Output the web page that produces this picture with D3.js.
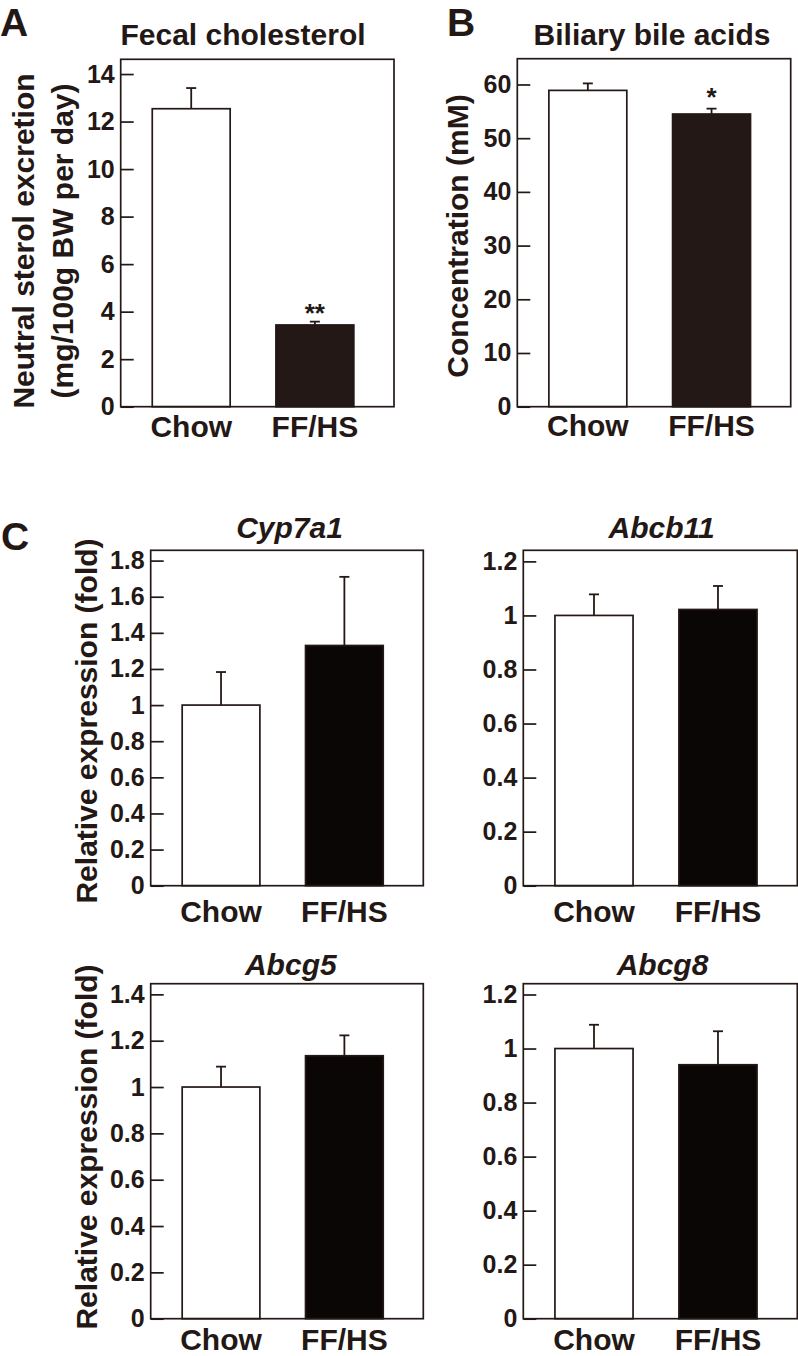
<!DOCTYPE html>
<html>
<head>
<meta charset="utf-8">
<script src="https://cdn.jsdelivr.net/npm/d3@7"></script>
<style>
  body { margin: 0; background: #fff; }
  svg text { font-family: "Liberation Sans", Arial, Helvetica, sans-serif; font-weight: bold; fill: #231815; }
</style>
</head>
<body>
<svg id="fig" width="798" height="1356"></svg>
<script>
// data (mean, SEM)
var groups = ["Chow", "FF/HS"];

var fecalMean = [12.54, 3.44];
var fecalSem = [0.87, 0.14];
var fecalSig = ["", "**"];
var fecalTicks = [0, 2, 4, 6, 8, 10, 12, 14];

var bileMean = [58.9, 54.5];
var bileSem = [1.3, 1.0];
var bileSig = ["", "*"];
var bileTicks = [0, 10, 20, 30, 40, 50, 60];

var cyp7a1Mean = [1.0, 1.33];
var cyp7a1Sem = [0.183, 0.38];
var cyp7a1Ticks = [0, 0.2, 0.4, 0.6, 0.8, 1, 1.2, 1.4, 1.6, 1.8];

var abcb11Mean = [1.0, 1.022];
var abcb11Sem = [0.078, 0.087];
var abcb11Ticks = [0, 0.2, 0.4, 0.6, 0.8, 1, 1.2];

var abcg5Mean = [1.0, 1.135];
var abcg5Sem = [0.088, 0.088];
var abcg5Ticks = [0, 0.2, 0.4, 0.6, 0.8, 1, 1.2, 1.4];

var abcg8Mean = [1.0, 0.94];
var abcg8Sem = [0.088, 0.124];
var abcg8Ticks = [0, 0.2, 0.4, 0.6, 0.8, 1, 1.2];

var ink = "#231815";
var svg = d3.select("#fig");

function drawPanel(opt) {
  var w = opt.right - opt.left, h = opt.bottom - opt.top;
  var g = svg.append("g").attr("transform", "translate(" + opt.left + "," + opt.top + ")");

  var x = d3.scaleBand().domain(groups).range([0, w])
    .paddingInner(0.37).paddingOuter(0.29).align(0.44);
  var y = d3.scaleLinear().domain([0, opt.ymax]).range([h, 0]);

  var yAxis = g.append("g")
    .call(d3.axisLeft(y).tickValues(opt.ticks).tickSizeInner(-13).tickSizeOuter(0).tickPadding(6)
      .tickFormat(function(d) { return String(+d.toFixed(1)); }));
  yAxis.select(".domain").remove();
  yAxis.selectAll("line").attr("stroke", ink).attr("stroke-width", 1.7);
  yAxis.selectAll("text").attr("font-size", 25).attr("font-family", null).attr("fill", ink);

  var xAxis = g.append("g").attr("transform", "translate(0," + h + ")")
    .call(d3.axisBottom(x).tickSize(0).tickPadding(opt.xgap));
  xAxis.select(".domain").remove();
  xAxis.selectAll("text").attr("font-size", 30).attr("font-family", null).attr("fill", ink);

  var data = groups.map(function(k, i) {
    return { k: k, m: opt.mean[i], s: opt.sem[i], sig: opt.sig ? opt.sig[i] : "", i: i };
  });

  // error bars (upper only), drawn under the bars
  var eb = g.selectAll(".eb").data(data).enter().append("g");
  eb.append("line")
    .attr("x1", function(d) { return x(d.k) + x.bandwidth() / 2; })
    .attr("x2", function(d) { return x(d.k) + x.bandwidth() / 2; })
    .attr("y1", function(d) { return y(d.m); })
    .attr("y2", function(d) { return y(d.m + d.s); })
    .attr("stroke", ink).attr("stroke-width", 1.8);
  eb.append("line")
    .attr("x1", function(d) { return x(d.k) + x.bandwidth() / 2 - 5; })
    .attr("x2", function(d) { return x(d.k) + x.bandwidth() / 2 + 5; })
    .attr("y1", function(d) { return y(d.m + d.s); })
    .attr("y2", function(d) { return y(d.m + d.s); })
    .attr("stroke", ink).attr("stroke-width", 1.8);

  g.selectAll(".bar").data(data).enter().append("rect")
    .attr("x", function(d) { return x(d.k); })
    .attr("width", x.bandwidth())
    .attr("y", function(d) { return y(d.m); })
    .attr("height", function(d) { return h - y(d.m); })
    .attr("fill", function(d) { return d.i === 0 ? "#fff" : opt.dark; })
    .attr("stroke", ink).attr("stroke-width", 1.7);

  g.selectAll(".sig").data(data.filter(function(d) { return d.sig; })).enter().append("text")
    .attr("x", function(d) { return x(d.k) + x.bandwidth() / 2; })
    .attr("y", function(d) { return y(d.m + d.s) - opt.sigGap + 4; })
    .attr("text-anchor", "middle").attr("font-size", 26)
    .text(function(d) { return d.sig; });

  // frame
  g.append("rect").attr("width", w).attr("height", h)
    .attr("fill", "none").attr("stroke", ink).attr("stroke-width", 1.7);

  svg.append("text").attr("x", opt.titleX).attr("y", opt.titleY)
    .attr("text-anchor", "middle").attr("font-size", 30)
    .attr("font-style", opt.italic ? "italic" : null)
    .text(opt.title);

  if (opt.ylab) {
    opt.ylab.forEach(function(line, i) {
      svg.append("text")
        .attr("transform", "translate(" + opt.ylabX[i] + "," + opt.ylabY + ") rotate(-90)")
        .attr("text-anchor", "middle").attr("font-size", 30)
        .text(line);
    });
  }
}

drawPanel({ left: 120.7, right: 394, top: 59.3, bottom: 406.7, ymax: 14.62, ticks: fecalTicks,
  mean: fecalMean, sem: fecalSem, sig: fecalSig, sigGap: 4, dark: ink, xgap: 8.7,
  title: "Fecal cholesterol", titleX: 243, titleY: 45,
  ylab: ["Neutral sterol excretion", "(mg/100g BW per day)"], ylabX: [34, 73], ylabY: 241 });

drawPanel({ left: 517.3, right: 790.7, top: 58.7, bottom: 406.7, ymax: 64.8, ticks: bileTicks,
  mean: bileMean, sem: bileSem, sig: bileSig, sigGap: 7, dark: ink, xgap: 8,
  title: "Biliary bile acids", titleX: 652, titleY: 45,
  ylab: ["Concentration (mM)"], ylabX: [468], ylabY: 236 });

drawPanel({ left: 150.7, right: 423.3, top: 550.3, bottom: 885.7, ymax: 1.857, ticks: cyp7a1Ticks,
  mean: cyp7a1Mean, sem: cyp7a1Sem, dark: "#0b0606", xgap: 14.7,
  title: "Cyp7a1", titleX: 289.5, titleY: 538, italic: true,
  ylab: ["Relative expression (fold)"], ylabX: [97], ylabY: 721 });

drawPanel({ left: 523.3, right: 797.3, top: 550.3, bottom: 885.7, ymax: 1.241, ticks: abcb11Ticks,
  mean: abcb11Mean, sem: abcb11Sem, dark: "#0b0606", xgap: 14.7,
  title: "Abcb11", titleX: 661.7, titleY: 537.5, italic: true });

drawPanel({ left: 150.7, right: 423.3, top: 983.7, bottom: 1318.7, ymax: 1.446, ticks: abcg5Ticks,
  mean: abcg5Mean, sem: abcg5Sem, dark: "#0b0606", xgap: 10.5,
  title: "Abcg5", titleX: 290.8, titleY: 975, italic: true,
  ylab: ["Relative expression (fold)"], ylabX: [97], ylabY: 1147 });

drawPanel({ left: 523.3, right: 797.3, top: 983.7, bottom: 1318.7, ymax: 1.24, ticks: abcg8Ticks,
  mean: abcg8Mean, sem: abcg8Sem, dark: "#0b0606", xgap: 10.5,
  title: "Abcg8", titleX: 662.5, titleY: 975, italic: true });

// panel letters
var letters = [["A", 0, 35.5], ["B", 447, 35.5], ["C", 1, 550]];
svg.selectAll(".letter").data(letters).enter().append("text")
  .attr("x", function(d) { return d[1]; })
  .attr("y", function(d) { return d[2]; })
  .attr("font-size", 39)
  .text(function(d) { return d[0]; });
</script>
</body>
</html>
